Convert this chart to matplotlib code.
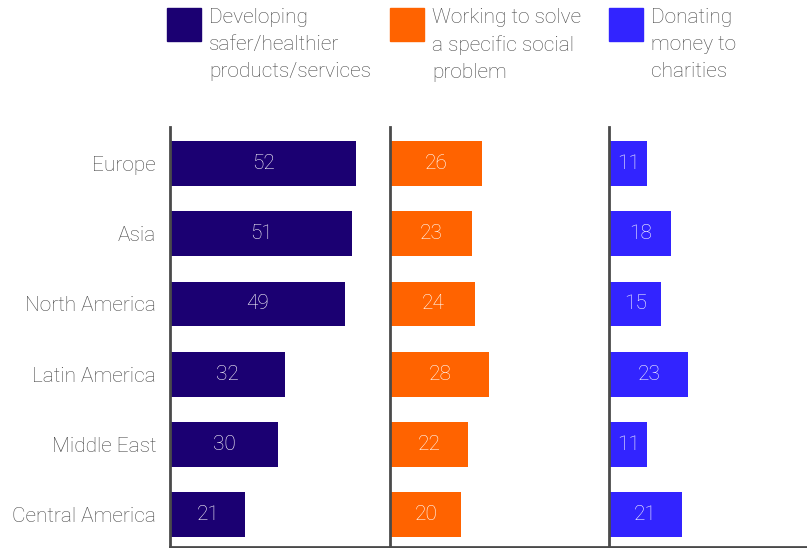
import matplotlib
matplotlib.use("Agg")
import matplotlib.pyplot as plt
from matplotlib.patches import Rectangle

regions = ["Europe", "Asia", "North America", "Latin America",
           "Middle East", "Central America"]
safer_products = [52, 51, 49, 32, 30, 21]
social_problem = [26, 23, 24, 28, 22, 20]
donating = [11, 18, 15, 23, 11, 21]

series_labels = ["Developing\nsafer/healthier\nproducts/services",
                 "Working to solve\na specific social\nproblem",
                 "Donating\nmoney to\ncharities"]
series_colors = ["#1b0072", "#ff6300", "#3224ff"]

plt.rcParams["font.family"] = ["Roboto", "DejaVu Sans"]
WEIGHT = "light"
TEXT = "#474747"
AXIS = "#4a4a4a"

W, H = 807, 548
fig = plt.figure(figsize=(W / 100, H / 100), dpi=100, facecolor="white")

# panel left / right edges in pixels, px per unit for each panel
panels = [(170, 390), (390, 609), (609, 807)]
scales = [3.56, 3.52, 3.42]
top, bottom = 127, 547

data = [safer_products, social_problem, donating]
for i, ((x0, x1), vals, col) in enumerate(zip(panels, data, series_colors)):
    ax = fig.add_axes([x0 / W, 1 - bottom / H, (x1 - x0) / W, (bottom - top) / H])
    ax.barh(range(len(regions)), vals, height=0.64, color=col, left=0.2)
    ax.set_xlim(0, (x1 - x0) / scales[i])
    ax.set_ylim(5.46, -0.52)
    for s in ("top", "right"):
        ax.spines[s].set_visible(False)
    ax.spines["left"].set_color(AXIS)
    ax.spines["left"].set_linewidth(2)
    ax.spines["bottom"].set_color(AXIS)
    ax.spines["bottom"].set_linewidth(2)
    ax.set_xticks([])
    if i == 0:
        ax.set_yticks(range(len(regions)))
        ax.set_yticklabels(regions, fontsize=15, color=TEXT, fontweight=WEIGHT)
        ax.tick_params(axis="y", length=0, pad=10)
    else:
        ax.set_yticks([])
    for y, v in enumerate(vals):
        ax.text(0.2 + v / 2, y, str(v), ha="center", va="center",
                color="white", fontsize=15, fontweight=WEIGHT)

    # legend swatch + label above each panel
    lx = x0 - (3 if i == 0 else 0)
    fig.patches.append(Rectangle((lx / W, 1 - 41 / H), 34 / W, 33 / H,
                                 transform=fig.transFigure, color=col))
    fig.text((lx + 42) / W, 1 - 8 / H, series_labels[i], ha="left", va="top",
             fontsize=15, color=TEXT, fontweight=WEIGHT, linespacing=1.52)

fig.savefig("out.png", dpi=100, facecolor="white")
